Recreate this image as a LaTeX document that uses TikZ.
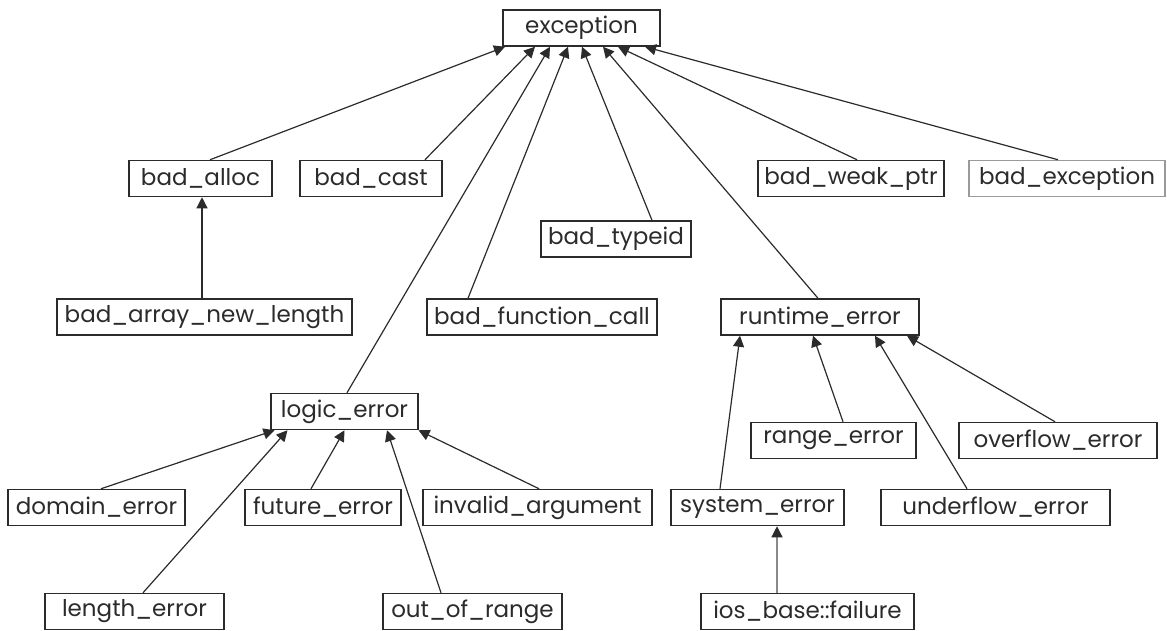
\documentclass[tikz,border=0pt]{standalone}
\usepackage{fontspec}
\setmainfont{Poppins}
\usepackage{xcolor}
\usetikzlibrary{arrows.meta,calc}
\definecolor{Ink}{HTML}{2B2B2B}
\definecolor{Faint}{HTML}{9A9A9A}
\definecolor{Wire}{HTML}{8A8A8A}

\begin{document}
\begin{tikzpicture}[
  x=1pt,y=-1pt,
  every node/.style={font=\fontsize{23}{27}\selectfont,align=center,text=Ink},
  cls/.style={draw=Ink,line width=1.5pt,fill=white,inner sep=0pt,minimum height=36pt},
  arr/.style={-{Triangle[length=11pt,width=11pt]},line width=1.2pt,Ink}
]
\useasboundingbox (0,0) rectangle (1167,630);
% root
\node[cls,minimum width=157pt] (exc) at (581.5,28) {exception};
% direct children
\node[cls,minimum width=143pt] (alloc) at (200.5,178.5) {bad\_alloc};
\node[cls,minimum width=142pt] (cast) at (371,178.5) {bad\_cast};
\node[cls,minimum width=186pt] (weak) at (851,178.5) {bad\_weak\_ptr};
\node[cls,draw=Faint,minimum width=196pt] (badexc) at (1067,178.5) {bad\_exception};
\node[cls,minimum width=150pt] (typeid) at (616,239) {bad\_typeid};
\node[cls,minimum width=295pt] (arrlen) at (204.5,317) {bad\_array\_new\_length};
\node[cls,minimum width=230pt] (func) at (542,317) {bad\_function\_call};
\node[cls,minimum width=198pt] (runtime) at (820,317) {runtime\_error};
\node[cls,minimum width=147pt] (logic) at (344.5,411.5) {logic\_error};
% runtime_error family
\node[cls,minimum width=165pt] (range) at (833.5,440.5) {range\_error};
\node[cls,minimum width=198pt] (over) at (1058,440.5) {overflow\_error};
\node[cls,minimum width=173pt] (system) at (757.5,507.5) {system\_error};
\node[cls,minimum width=229pt] (under) at (995.5,507.5) {underflow\_error};
\node[cls,minimum width=213pt] (ios) at (807.5,611.5) {ios\_base::failure};
% logic_error family
\node[cls,minimum width=177pt] (domain) at (96.5,507.5) {domain\_error};
\node[cls,minimum width=156pt] (future) at (323,507.5) {future\_error};
\node[cls,minimum width=229pt] (invalid) at (537.5,507.5) {invalid\_argument};
\node[cls,minimum width=179pt] (length) at (134.5,611.5) {length\_error};
\node[cls,minimum width=179pt] (range2) at (472.5,611.5) {out\_of\_range};
% edges to exception
\draw[arr] ([xshift=9.5]alloc.north) -- ([xshift=-76.5]exc.south);
\draw[arr] ([xshift=54]cast.north) -- ([xshift=-46.5]exc.south);
\draw[arr] ([xshift=2.5]logic.north) -- ([xshift=-31.5]exc.south);
\draw[arr] ([xshift=-74]func.north) -- ([xshift=-13.5]exc.south);
\draw[arr] ([xshift=36]typeid.north) -- ([xshift=0.5]exc.south);
\draw[arr] ([xshift=-2]runtime.north) -- ([xshift=21.5]exc.south);
\draw[arr] ([xshift=6]weak.north) -- ([xshift=36.5]exc.south);
\draw[arr] ([xshift=-9]badexc.north) -- ([xshift=63.5]exc.south);
\draw[arr] ([xshift=-2.5]arrlen.north) -- ([xshift=1.5]alloc.south);
% edges to logic_error
\draw[arr] ([xshift=4.5]domain.north) -- ([xshift=-70]logic.south);
\draw[arr] ([xshift=8.5]length.north) -- ([xshift=-57]logic.south);
\draw[arr] ([xshift=-12]future.north) -- ([xshift=0]logic.south);
\draw[arr] ([xshift=-31.5]range2.north) -- ([xshift=42.5]logic.south);
\draw[arr] ([xshift=1.5]invalid.north) -- ([xshift=74]logic.south);
% edges to runtime_error
\draw[arr] ([xshift=-37.5]system.north) -- ([xshift=-80]runtime.south);
\draw[arr] ([xshift=9.5]range.north) -- ([xshift=-7]runtime.south);
\draw[arr] ([xshift=-28.5]under.north) -- ([xshift=55]runtime.south);
\draw[arr] ([xshift=-3]over.north) -- ([xshift=87]runtime.south);
\draw[arr,Wire,-{Triangle[length=11pt,width=11pt,color=Ink]}] ([xshift=-30.5]ios.north) -- ([xshift=19.5]system.south);
\end{tikzpicture}
\end{document}
